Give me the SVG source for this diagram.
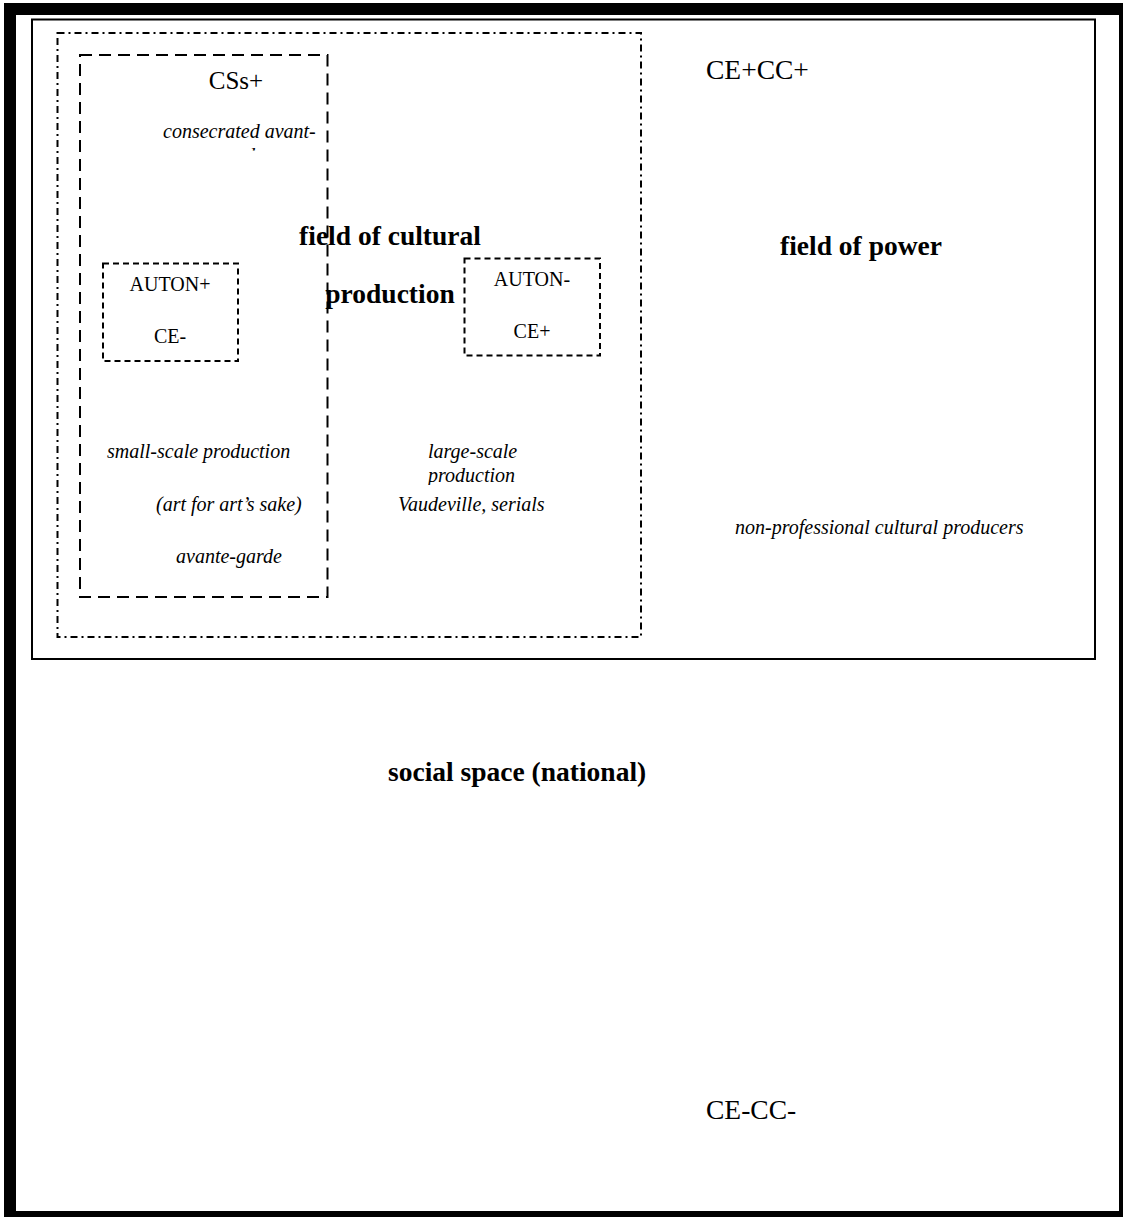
<svg xmlns="http://www.w3.org/2000/svg" width="1123" height="1217" viewBox="0 0 1123 1217">
<style>
  text { font-family: "Liberation Serif", "Times New Roman", serif; fill: #000; }
  .reg { font-size: 20px; }
  .big { font-size: 27.5px; }
  .it { font-size: 20px; font-style: italic; }
  .bold { font-size: 27.5px; font-weight: bold; }
  .frame { fill: #000; }
  .solid { fill: none; stroke: #000; stroke-width: 2; }
  .dashdot { fill: none; stroke: #000; stroke-width: 2; stroke-dasharray: 7 4 2 4; }
  .dashbig { fill: none; stroke: #000; stroke-width: 2; stroke-dasharray: 12 7; }
  .dashsmall { fill: none; stroke: #000; stroke-width: 2; stroke-dasharray: 6 4; }
</style>
<defs>
  <clipPath id="clipGarde"><rect x="242" y="140" width="20" height="10.5"/></clipPath>
  <clipPath id="clipProd"><rect x="400" y="460" width="160" height="25"/></clipPath>
</defs>
<rect x="0" y="0" width="1123" height="1217" fill="#fff"/>
<g id="page-frame">
  <rect class="frame" x="4" y="3" width="12" height="1214"/>
  <rect class="frame" x="4" y="3" width="1119" height="12"/>
  <rect class="frame" x="1119" y="3" width="4" height="1214"/>
  <rect class="frame" x="4" y="1211" width="1119" height="6"/>
</g>
<g id="social-space">
  <text class="bold" x="388" y="781">social space (national)</text>
  <text class="big" x="706" y="1119">CE-CC-</text>
</g>
<g id="field-of-power">
  <rect class="solid" x="32" y="19.5" width="1063" height="639.5"/>
  <text class="big" x="706" y="79">CE+CC+</text>
  <text class="bold" x="861" y="255" text-anchor="middle">field of power</text>
  <text class="it" x="735" y="534">non-professional cultural producers</text>
</g>
<g id="field-of-cultural-production">
  <rect class="dashdot" x="57.5" y="33" width="583.5" height="604"/>
  <text class="bold" x="390" y="245" text-anchor="middle">field of cultural</text>
  <text class="bold" x="390" y="303" text-anchor="middle">production</text>
  <text class="it" x="428" y="458">large-scale</text>
  <text class="it" x="428" y="482" clip-path="url(#clipProd)">production</text>
  <text class="it" x="398" y="511">Vaudeville, serials</text>
</g>
<g id="small-scale-production">
  <rect class="dashbig" x="80" y="55" width="247.5" height="542"/>
  <text class="big" x="236" y="89" text-anchor="middle" style="font-size:25px">CSs+</text>
  <text class="it" x="163" y="138">consecrated avant-</text>
  <text class="it" x="218" y="162" clip-path="url(#clipGarde)">garde</text>
  <text class="it" x="107" y="458">small-scale production</text>
  <text class="it" x="156" y="511">(art for art’s sake)</text>
  <text class="it" x="176" y="563">avante-garde</text>
</g>
<g id="auton-plus">
  <rect class="dashsmall" x="103" y="263.5" width="135" height="97.5"/>
  <text class="reg" x="170" y="291" text-anchor="middle">AUTON+</text>
  <text class="reg" x="170" y="343" text-anchor="middle">CE-</text>
</g>
<g id="auton-minus">
  <rect class="dashsmall" x="464.5" y="258.5" width="135.5" height="97"/>
  <text class="reg" x="532" y="286" text-anchor="middle">AUTON-</text>
  <text class="reg" x="532" y="338" text-anchor="middle">CE+</text>
</g>
<g id="connectors"></g>
</svg>
